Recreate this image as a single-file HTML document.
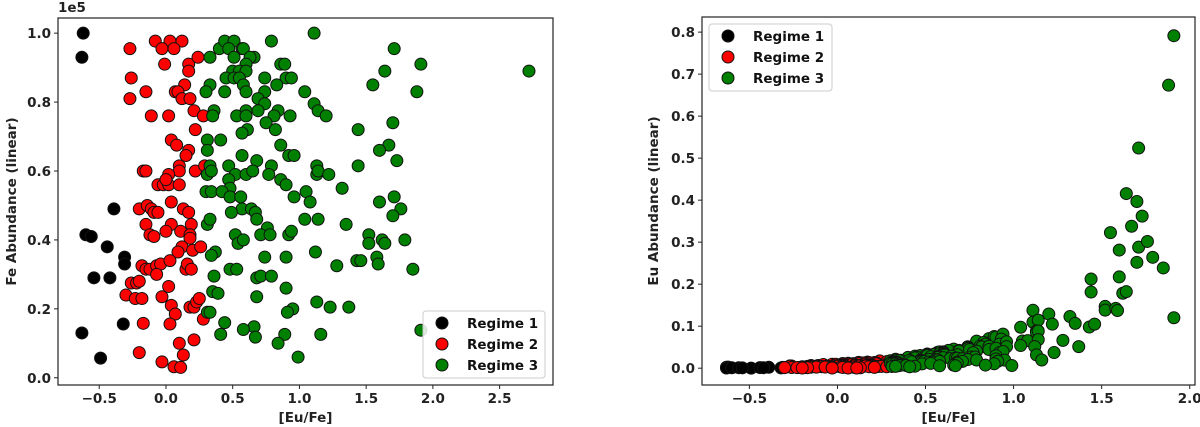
<!DOCTYPE html>
<html><head><meta charset="utf-8"><style>
html,body{margin:0;padding:0;background:#fff;}
svg{display:block;font-family:"DejaVu Sans","Liberation Sans",sans-serif;font-weight:bold;}
</style></head><body>
<svg id="fig" width="1200" height="427" viewBox="0 0 1200 427" xmlns="http://www.w3.org/2000/svg"></svg>
<script>
// Data: [Eu/Fe] and Fe abundance (1e5 units) for each regime
const r1EuFe=[-0.62,-0.63,-0.63,-0.49,-0.39,-0.60,-0.56,-0.44,-0.31,-0.31,-0.54,-0.42,-0.32];
const r1Fe=[1.0,0.93,0.13,0.057,0.49,0.415,0.41,0.38,0.35,0.33,0.29,0.29,0.156];
const r2EuFe=[-0.27,-0.26,-0.27,-0.15,-0.11,-0.08,0.03,0.12,-0.03,0.06,-0.01,0.17,0.17,0.24,0.14,0.07,0.09,0.12,0.18,0.21,0.02,0.28,0.22,0.04,0.08,0.17,0.15,-0.17,-0.15,0.10,0.10,0.22,0.29,0.02,-0.06,-0.02,0.02,0.10,0.0,0.04,-0.20,-0.14,-0.11,-0.09,-0.06,0.13,0.17,-0.15,0.04,0.19,-0.12,-0.09,0.0,0.11,0.18,0.18,0.12,0.09,0.2,0.26,-0.18,-0.15,-0.12,-0.07,-0.04,0.03,-0.07,0.15,0.16,0.19,-0.26,-0.22,-0.2,0.02,-0.3,-0.23,-0.18,-0.03,0.04,0.07,0.18,0.21,0.23,0.25,0.28,-0.17,0.03,0.21,0.1,-0.2,0.13,-0.03,0.06,0.11];
const r2Fe=[0.955,0.87,0.81,0.83,0.76,0.977,0.977,0.977,0.955,0.955,0.91,0.91,0.89,0.93,0.85,0.83,0.83,0.81,0.81,0.775,0.76,0.76,0.72,0.69,0.675,0.66,0.645,0.60,0.60,0.615,0.60,0.60,0.615,0.59,0.56,0.56,0.56,0.56,0.575,0.51,0.49,0.50,0.49,0.48,0.48,0.49,0.48,0.445,0.445,0.445,0.415,0.41,0.425,0.425,0.415,0.405,0.38,0.365,0.37,0.38,0.325,0.315,0.315,0.325,0.33,0.34,0.30,0.315,0.33,0.315,0.275,0.275,0.28,0.265,0.24,0.23,0.23,0.235,0.21,0.185,0.205,0.205,0.22,0.23,0.17,0.158,0.156,0.11,0.10,0.073,0.066,0.046,0.032,0.03];
const r3EuFe=[0.33,0.40,0.44,0.51,0.47,0.57,0.58,0.66,0.63,0.51,0.79,1.11,1.71,1.91,2.72,1.64,1.55,1.88,0.60,0.86,0.89,0.5,0.55,0.6,0.45,0.51,0.55,0.74,0.90,0.94,0.58,0.83,0.33,0.30,0.44,0.60,0.74,1.04,0.69,0.74,1.11,0.36,0.60,0.69,0.84,1.14,0.35,0.53,0.60,0.81,0.93,1.2,0.75,1.70,0.61,0.82,1.44,0.57,0.31,0.41,0.86,1.67,0.31,1.6,0.57,0.92,0.96,0.68,1.73,0.33,0.47,0.79,1.13,1.44,0.31,0.34,0.52,0.60,0.65,0.77,1.13,1.14,1.22,0.86,0.90,0.47,0.48,0.30,0.34,0.42,0.48,0.56,1.32,1.05,1.08,0.96,1.6,1.71,1.76,1.70,0.57,0.64,0.67,0.49,0.68,1.04,1.14,1.35,0.31,0.33,0.76,0.71,0.78,0.52,0.92,0.94,0.54,0.58,1.52,1.52,1.62,1.64,1.79,0.37,0.34,1.12,0.74,0.90,1.43,1.46,1.58,1.59,1.28,1.85,0.48,0.53,0.36,0.68,0.71,0.79,0.9,0.35,0.39,0.68,1.13,1.23,1.37,0.95,0.91,0.31,0.33,0.44,0.66,0.58,1.91,0.41,0.89,1.16,0.67,0.84,0.99];
const r3Fe=[0.93,0.955,0.977,0.977,0.955,0.955,0.955,0.93,0.93,0.93,0.977,1.0,0.955,0.91,0.89,0.89,0.85,0.83,0.91,0.91,0.91,0.89,0.89,0.89,0.87,0.87,0.87,0.87,0.87,0.87,0.85,0.85,0.85,0.83,0.83,0.83,0.83,0.83,0.81,0.795,0.795,0.775,0.775,0.775,0.775,0.775,0.76,0.76,0.76,0.76,0.76,0.76,0.74,0.74,0.72,0.72,0.72,0.71,0.69,0.69,0.675,0.675,0.66,0.66,0.645,0.645,0.645,0.63,0.63,0.615,0.615,0.615,0.615,0.615,0.59,0.60,0.59,0.59,0.60,0.59,0.59,0.60,0.59,0.575,0.56,0.575,0.55,0.54,0.54,0.54,0.525,0.525,0.55,0.54,0.51,0.525,0.51,0.525,0.49,0.47,0.49,0.49,0.48,0.48,0.46,0.46,0.46,0.445,0.445,0.46,0.435,0.415,0.415,0.415,0.415,0.425,0.39,0.40,0.415,0.39,0.40,0.39,0.40,0.365,0.355,0.365,0.35,0.35,0.34,0.34,0.35,0.33,0.325,0.315,0.315,0.315,0.295,0.29,0.295,0.295,0.26,0.25,0.245,0.235,0.22,0.205,0.205,0.2,0.19,0.19,0.19,0.16,0.148,0.14,0.138,0.126,0.126,0.126,0.118,0.10,0.06];
const euScale=0.0107; // Eu abundance = Fe * 10^[Eu/Fe] * euScale
const leftXTicks=[-0.5,0.0,0.5,1.0,1.5,2.0,2.5];
const leftYTicks=[0.0,0.2,0.4,0.6,0.8,1.0];
const rightXTicks=[-0.5,0.0,0.5,1.0,1.5,2.0];
const rightYTicks=[0.0,0.1,0.2,0.3,0.4,0.5,0.6,0.7,0.8];
const regimeNames=["Regime 1","Regime 2","Regime 3"];
const colors=["#000000","#ff0000","#008000"];

const NS="http://www.w3.org/2000/svg";
const svg=document.getElementById('fig');
const FS=13.5;
function mk(tag,attrs,parent){const e=document.createElementNS(NS,tag);for(const k in attrs)e.setAttribute(k,attrs[k]);(parent||svg).appendChild(e);return e;}
function euOf(fe,x){return fe*Math.pow(10,x)*euScale;}

function panel(cfg){
  const {L,R,T,B,xmin,xmax,ymin,ymax,id}=cfg;
  const sx=v=>L+(v-xmin)/(xmax-xmin)*(R-L);
  const sy=v=>B-(v-ymin)/(ymax-ymin)*(B-T);
  const g=mk('g',{});
  
  
  const cp=mk('clipPath',{id:id+'-clip'},g);
  mk('rect',{x:L,y:T,width:R-L,height:B-T},cp);
  const pts=mk('g',{'clip-path':'url(#'+id+'-clip)'},g);
  
  
  cfg.series.forEach((s,si)=>{
    for(let i=0;i<s.x.length;i++){
      const c=mk('circle',{cx:sx(s.x[i]),cy:sy(s.y[i]),r:6,fill:colors[si],stroke:'#111',"stroke-width":1},pts);
      
      
    }
  });
  const frame=mk('rect',{x:L,y:T,width:R-L,height:B-T,fill:'none',stroke:'#222',"stroke-width":1.2},g);
  
  
  cfg.xt.forEach(v=>{
    const x=sx(v);
    mk('line',{x1:x,x2:x,y1:B,y2:B+4,stroke:'#222'},g);
    const t=mk('text',{x:x,y:B+18,"text-anchor":"middle","font-size":FS,fill:'#222'},g);
    t.textContent=(v<0?'\u2212':'')+Math.abs(v).toFixed(1);
    
    
  });
  cfg.yt.forEach(v=>{
    const y=sy(v);
    mk('line',{x1:L-4,x2:L,y1:y,y2:y,stroke:'#222'},g);
    const t=mk('text',{x:L-7,y:y+5,"text-anchor":"end","font-size":FS,fill:'#222'},g);
    t.textContent=v.toFixed(1);
    
    
  });
  const xl=mk('text',{x:(L+R)/2,y:422,"text-anchor":"middle","font-size":FS,fill:'#222'},g);
  xl.textContent='[Eu/Fe]';
  
  
  const yl=mk('text',{x:0,y:0,"text-anchor":"middle","font-size":FS,fill:'#222',transform:'translate('+cfg.ylx+','+((T+B)/2)+') rotate(-90)'},g);
  yl.textContent=cfg.ylabel;
  
  
  const lg=mk('g',{},g);
  
  
  const lb=cfg.leg;
  mk('rect',{x:lb.x,y:lb.y,width:lb.w,height:lb.h,rx:3,fill:'#fff',"fill-opacity":0.85,stroke:'#ccc'},lg);
  regimeNames.forEach((n,i)=>{
    const cy=lb.y+12+i*21;
    const m=mk('circle',{cx:lb.mx,cy:cy,r:6,fill:colors[i],stroke:'#111'},lg);
    
    
    const t=mk('text',{x:lb.tx,y:cy+5,"font-size":FS,fill:'#111'},lg);
    t.textContent=n;
    
    
  });
}

panel({id:'fe',L:58,R:553,T:18,B:385,xmin:-0.809,xmax:2.9,ymin:-0.021,ymax:1.044,
  xt:leftXTicks,yt:leftYTicks,ylx:16,ylabel:'Fe Abundance (linear)',
  leg:{x:423,y:311,w:122,h:67,mx:442,tx:467},
  series:[{x:r1EuFe,y:r1Fe},{x:r2EuFe,y:r2Fe},{x:r3EuFe,y:r3Fe}]});
const off=mk('text',{x:58,y:12,"font-size":FS,fill:'#222'});
off.textContent='1e5';



panel({id:'eu',L:702,R:1195,T:17,B:385,xmin:-0.769,xmax:2.03,ymin:-0.04,ymax:0.836,
  xt:rightXTicks,yt:rightYTicks,ylx:658,ylabel:'Eu Abundance (linear)',
  leg:{x:709,y:24,w:123,h:67,mx:728,tx:753},
  series:[{x:r1EuFe,y:r1Fe.map((f,i)=>euOf(f,r1EuFe[i]))},
          {x:r2EuFe,y:r2Fe.map((f,i)=>euOf(f,r2EuFe[i]))},
          {x:r3EuFe,y:r3Fe.map((f,i)=>euOf(f,r3EuFe[i]))}]});
</script>
</body></html>
